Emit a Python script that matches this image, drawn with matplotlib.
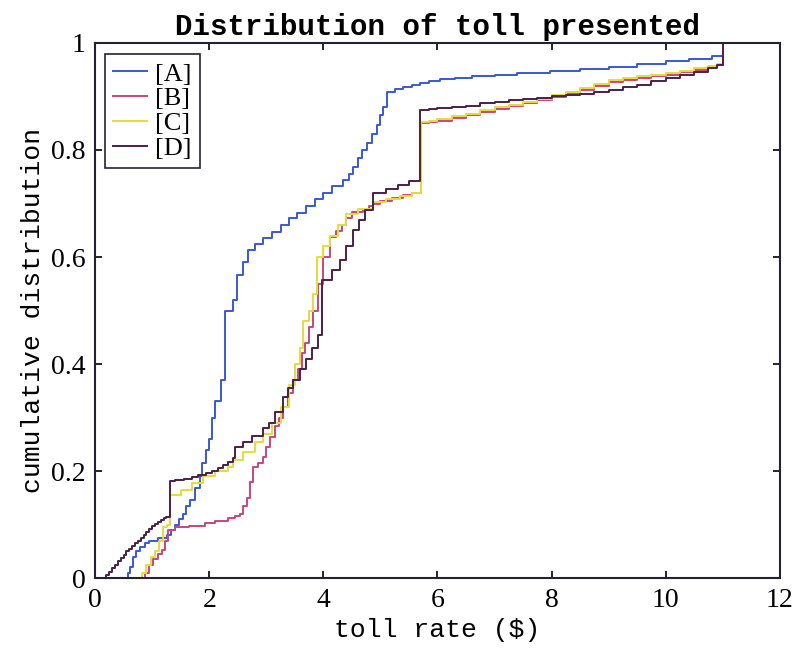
import matplotlib
matplotlib.use("Agg")
import matplotlib.pyplot as plt

# step breakpoints (toll rate in $) and cumulative share for each group
a_x = [0.0, 0.58, 0.62, 0.67, 0.72, 0.78, 0.88, 0.95, 1.1, 1.26, 1.33, 1.4, 1.47, 1.54, 1.6, 1.66,
       1.75, 1.83, 1.87, 1.95, 2.0, 2.05, 2.1, 2.2, 2.28, 2.42, 2.49, 2.6, 2.68, 2.8, 2.95, 3.1,
       3.25, 3.4, 3.54, 3.7, 3.85, 3.99, 4.15, 4.34, 4.45, 4.52, 4.6, 4.68, 4.76, 4.85, 4.94, 5.0,
       5.04, 5.11, 5.25, 5.4, 5.55, 5.7, 5.85, 6.04, 6.3, 6.6, 7.0, 7.4, 7.97, 8.5, 9.0, 9.5,
       10.0, 10.4, 10.82, 11.0]
a_y = [0.0, 0.01, 0.02, 0.04, 0.05, 0.058, 0.065, 0.07, 0.075, 0.08, 0.09, 0.1, 0.11, 0.12, 0.135, 0.146,
       0.168, 0.19, 0.215, 0.24, 0.26, 0.3, 0.33, 0.37, 0.5, 0.52, 0.566, 0.59, 0.613, 0.625, 0.636, 0.647,
       0.66, 0.672, 0.682, 0.695, 0.708, 0.72, 0.732, 0.744, 0.755, 0.768, 0.785, 0.8, 0.813, 0.83, 0.847, 0.865,
       0.88, 0.908, 0.914, 0.918, 0.921, 0.925, 0.929, 0.933, 0.935, 0.938, 0.941, 0.944, 0.948, 0.952, 0.956, 0.961,
       0.966, 0.97, 0.976, 1.0]

b_x = [0.0, 0.82, 0.88, 0.95, 1.02, 1.1, 1.17, 1.22, 1.28, 1.4, 1.65, 1.93, 2.1, 2.33, 2.45, 2.54,
       2.6, 2.66, 2.72, 2.77, 2.85, 2.94, 3.0, 3.07, 3.15, 3.22, 3.29, 3.38, 3.47, 3.55, 3.62, 3.68,
       3.75, 3.82, 3.9, 4.0, 4.12, 4.22, 4.32, 4.4, 4.5, 4.7, 4.8, 4.87, 5.0, 5.2, 5.4, 5.55,
       5.72, 5.85, 6.0, 6.25, 6.5, 6.75, 7.0, 7.25, 7.5, 7.75, 8.0, 8.25, 8.5, 8.75, 9.0, 9.25,
       9.5, 9.75, 10.0, 10.25, 10.5, 10.75, 10.9, 11.0]
b_y = [0.0, 0.0, 0.01, 0.025, 0.035, 0.045, 0.052, 0.07, 0.09, 0.095, 0.098, 0.103, 0.107, 0.112, 0.116, 0.12,
       0.135, 0.15, 0.18, 0.207, 0.215, 0.226, 0.245, 0.264, 0.285, 0.3, 0.32, 0.345, 0.37, 0.39, 0.42, 0.44,
       0.47, 0.5, 0.55, 0.6, 0.637, 0.648, 0.66, 0.672, 0.684, 0.688, 0.695, 0.7, 0.705, 0.71, 0.715, 0.72,
       0.85, 0.852, 0.855, 0.86, 0.865, 0.871, 0.877, 0.882, 0.887, 0.893, 0.899, 0.906, 0.913, 0.92, 0.927, 0.931,
       0.935, 0.938, 0.941, 0.945, 0.95, 0.955, 0.958, 1.0]

c_x = [0.0, 0.75, 0.82, 0.9, 0.98, 1.05, 1.12, 1.19, 1.26, 1.32, 1.5, 1.7, 1.9, 2.1, 2.33, 2.42,
       2.6, 2.8, 2.94, 3.1, 3.25, 3.4, 3.5, 3.59, 3.65, 3.75, 3.82, 3.89, 4.0, 4.12, 4.25, 4.4,
       4.6, 4.87, 5.1, 5.35, 5.55, 5.72, 5.85, 6.0, 6.25, 6.5, 6.75, 7.0, 7.25, 7.5, 7.75, 8.0,
       8.25, 8.5, 8.75, 9.0, 9.25, 9.5, 9.75, 10.0, 10.25, 10.5, 10.75, 10.9, 11.0]
c_y = [0.0, 0.0, 0.01, 0.025, 0.04, 0.05, 0.07, 0.095, 0.1, 0.155, 0.165, 0.178, 0.19, 0.2, 0.208, 0.22,
       0.235, 0.255, 0.27, 0.29, 0.32, 0.36, 0.4, 0.43, 0.48, 0.5, 0.53, 0.6, 0.62, 0.64, 0.66, 0.68,
       0.69, 0.702, 0.708, 0.714, 0.72, 0.853, 0.855, 0.858, 0.863, 0.868, 0.874, 0.88, 0.885, 0.89, 0.896, 0.902,
       0.909, 0.916, 0.923, 0.93, 0.934, 0.938, 0.941, 0.944, 0.948, 0.953, 0.957, 0.96, 1.0]

d_x = [0.0, 0.15, 0.2, 0.25, 0.3, 0.35, 0.4, 0.45, 0.5, 0.55, 0.6, 0.65, 0.7, 0.75, 0.8, 0.85,
       0.9, 0.95, 1.0, 1.05, 1.1, 1.15, 1.2, 1.25, 1.31, 1.4, 1.55, 1.7, 1.8, 1.95, 2.05, 2.15,
       2.25, 2.33, 2.42, 2.45, 2.6, 2.75, 2.94, 3.05, 3.15, 3.29, 3.38, 3.47, 3.59, 3.7, 3.8, 3.9,
       3.97, 4.15, 4.29, 4.4, 4.52, 4.62, 4.73, 4.87, 5.1, 5.3, 5.5, 5.69, 5.85, 6.0, 6.25, 6.5,
       6.75, 7.0, 7.25, 7.5, 7.75, 8.0, 8.25, 8.5, 8.75, 9.0, 9.25, 9.5, 9.75, 10.0, 10.25, 10.5,
       10.75, 10.9, 11.0]
d_y = [0.0, 0.0, 0.005, 0.012, 0.018, 0.025, 0.031, 0.038, 0.044, 0.05, 0.055, 0.06, 0.065, 0.07, 0.075, 0.08,
       0.086, 0.092, 0.097, 0.101, 0.105, 0.109, 0.112, 0.115, 0.181, 0.183, 0.186, 0.189, 0.192, 0.196, 0.2, 0.206,
       0.212, 0.217, 0.224, 0.245, 0.255, 0.265, 0.28, 0.29, 0.31, 0.338, 0.355, 0.37, 0.39, 0.41, 0.43, 0.455,
       0.557, 0.575, 0.594, 0.62, 0.65, 0.67, 0.688, 0.72, 0.728, 0.735, 0.742, 0.875, 0.876, 0.878, 0.88, 0.883,
       0.887, 0.89, 0.893, 0.895, 0.897, 0.9, 0.902, 0.905, 0.908, 0.912, 0.917, 0.922, 0.928, 0.934, 0.94, 0.946,
       0.953, 0.958, 1.0]

labels = ['[A]', '[B]', '[C]', '[D]']
colors = ['#3a58d6', '#c8457d', '#e6dc3c', '#4b1f46']

fig = plt.figure(figsize=(7.99, 6.51), dpi=100)
ax = fig.add_axes([0.119, 0.112, 0.857, 0.822])

series = [(a_x, a_y), (b_x, b_y), (c_x, c_y), (d_x, d_y)]
for (xs, ys), lab, col in zip(series, labels, colors):
    ax.step(xs, ys, where='post', color=col, lw=1.4, label=lab)

ax.set_xlim(0, 12)
ax.set_ylim(0, 1)
ax.set_xticks(range(0, 13, 2))
ax.set_yticks([0, 0.2, 0.4, 0.6, 0.8, 1.0])
ax.set_yticklabels(['0', '0.2', '0.4', '0.6', '0.8', '1'])
ax.tick_params(direction='in', length=5, width=1.2, top=True, right=True,
               labelsize=20, pad=7)
for t in ax.get_xticklabels() + ax.get_yticklabels():
    t.set_family('Liberation Serif')
for s in ax.spines.values():
    s.set_linewidth(1.5)
    s.set_color('#222233')

ax.set_title('Distribution of toll presented', fontfamily='Liberation Mono',
             fontweight='bold', fontsize=21, pad=6)
ax.set_xlabel('toll rate ($)', fontfamily='Liberation Mono', fontsize=19, labelpad=4)
ax.set_ylabel('cumulative distribution', fontfamily='Liberation Mono', fontsize=19, labelpad=4)

leg = ax.legend(loc='upper left', bbox_to_anchor=(0.0146, 0.979), borderaxespad=0,
                prop={'family': 'Liberation Serif', 'size': 19}, handlelength=1.3,
                handletextpad=0.3, labelspacing=0.05, borderpad=0.3, fancybox=False,
                framealpha=1)
leg.get_frame().set_edgecolor('#222233')
leg.get_frame().set_linewidth(1.2)

fig.savefig('out.png', dpi=100)
